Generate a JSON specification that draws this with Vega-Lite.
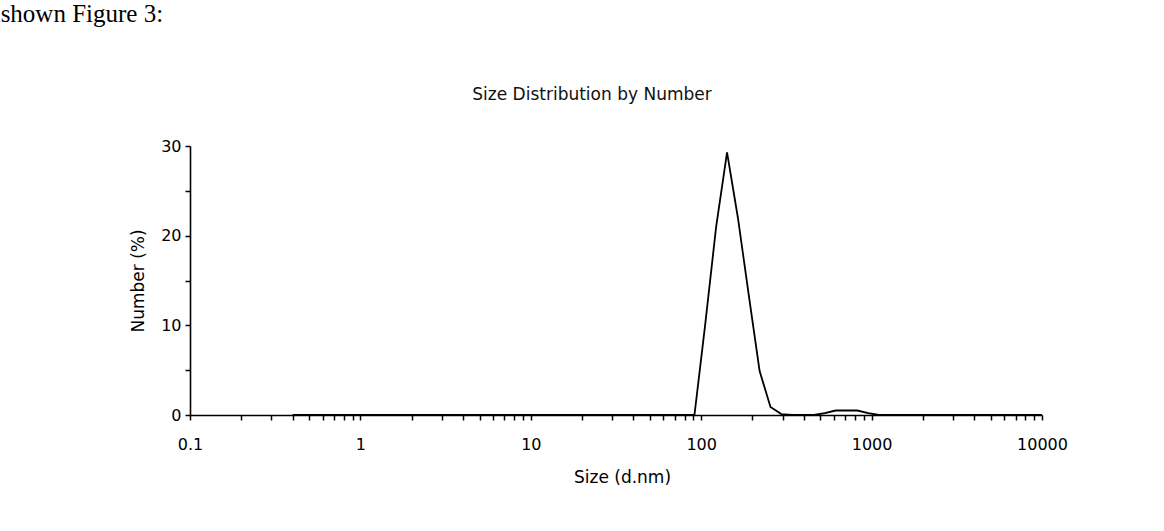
{
  "$schema": "https://vega.github.io/schema/vega-lite/v6.json",
  "background": "white",
  "padding": {"left": 0, "top": 2, "right": 5, "bottom": 5},
  "title": {"text": "shown Figure 3:", "anchor": "start", "font": "Liberation Serif", "fontSize": 25, "fontWeight": "normal", "color": "#000000", "dx": -129, "offset": 59, "frame": "bounds"},
  "vconcat": [
    {
      "width": 852,
      "height": 269,
      "title": {"text": "Size Distribution by Number", "font": "DejaVu Sans", "fontSize": 17, "fontWeight": "normal", "color": "#111111", "offset": 34, "dx": -24},
      "data": {"values": [
        {"size": 0.4, "number": 0}, {"size": 0.4632, "number": 0}, {"size": 0.5365, "number": 0}, {"size": 0.6213, "number": 0},
        {"size": 0.7195, "number": 0}, {"size": 0.8332, "number": 0}, {"size": 0.9649, "number": 0}, {"size": 1.117, "number": 0},
        {"size": 1.294, "number": 0}, {"size": 1.499, "number": 0}, {"size": 1.736, "number": 0}, {"size": 2.01, "number": 0},
        {"size": 2.328, "number": 0}, {"size": 2.696, "number": 0}, {"size": 3.122, "number": 0}, {"size": 3.615, "number": 0},
        {"size": 4.187, "number": 0}, {"size": 4.849, "number": 0}, {"size": 5.615, "number": 0}, {"size": 6.503, "number": 0},
        {"size": 7.531, "number": 0}, {"size": 8.721, "number": 0}, {"size": 10.1, "number": 0}, {"size": 11.7, "number": 0},
        {"size": 13.54, "number": 0}, {"size": 15.69, "number": 0}, {"size": 18.17, "number": 0}, {"size": 21.04, "number": 0},
        {"size": 24.36, "number": 0}, {"size": 28.21, "number": 0}, {"size": 32.67, "number": 0}, {"size": 37.84, "number": 0},
        {"size": 43.82, "number": 0}, {"size": 50.75, "number": 0}, {"size": 58.77, "number": 0}, {"size": 68.06, "number": 0},
        {"size": 78.82, "number": 0}, {"size": 91.28, "number": 0}, {"size": 105.7, "number": 10.2}, {"size": 122.4, "number": 21.0},
        {"size": 141.8, "number": 29.3}, {"size": 164.2, "number": 22.0}, {"size": 190.1, "number": 13.4}, {"size": 220.2, "number": 4.9},
        {"size": 255.0, "number": 0.9}, {"size": 295.3, "number": 0.1}, {"size": 342.0, "number": 0}, {"size": 396.1, "number": 0},
        {"size": 458.7, "number": 0}, {"size": 531.2, "number": 0.2}, {"size": 615.1, "number": 0.5}, {"size": 712.4, "number": 0.5},
        {"size": 825.0, "number": 0.5}, {"size": 955.4, "number": 0.2}, {"size": 1106, "number": 0}, {"size": 1281, "number": 0},
        {"size": 1484, "number": 0}, {"size": 1718, "number": 0}, {"size": 1990, "number": 0}, {"size": 2305, "number": 0},
        {"size": 2669, "number": 0}, {"size": 3091, "number": 0}, {"size": 3580, "number": 0}, {"size": 4145, "number": 0},
        {"size": 4801, "number": 0}, {"size": 5560, "number": 0}, {"size": 6439, "number": 0}, {"size": 7456, "number": 0},
        {"size": 8635, "number": 0}, {"size": 10000, "number": 0}
      ]},
      "mark": {"type": "line", "color": "#000000", "strokeWidth": 1.8, "clip": true},
      "encoding": {
        "x": {
          "field": "size", "type": "quantitative",
          "scale": {"type": "log", "domain": [0.1, 10000], "nice": false},
          "axis": {
            "title": "Size (d.nm)",
            "values": [0.1, 0.2, 0.3, 0.4, 0.5, 0.6, 0.7, 0.8, 0.9, 1, 2, 3, 4, 5, 6, 7, 8, 9, 10, 20, 30, 40, 50, 60, 70, 80, 90, 100, 200, 300, 400, 500, 600, 700, 800, 900, 1000, 2000, 3000, 4000, 5000, 6000, 7000, 8000, 9000, 10000],
            "labelExpr": "abs(log(datum.value)/LN10 - round(log(datum.value)/LN10)) < 0.001 ? (datum.value < 1 ? '0.1' : format(datum.value, 'd')) : ''",
            "labelOverlap": false,
            "labelFlush": false,
            "labelBound": false,
            "tickSize": 5,
            "labelPadding": 16,
            "titlePadding": 17,
            "titleX": 432
          }
        },
        "y": {
          "field": "number", "type": "quantitative",
          "scale": {"domain": [0, 30], "nice": false},
          "axis": {
            "title": "Number (%)",
            "values": [0, 5, 10, 15, 20, 25, 30],
            "labelExpr": "datum.value % 10 == 0 ? datum.label : ''",
            "labelOverlap": false,
            "labelFlush": false,
            "tickSize": 5,
            "labelPadding": 4,
            "titlePadding": 13
          }
        }
      }
    }
  ],
  "config": {
    "view": {"stroke": null},
    "axis": {
      "grid": false,
      "domainColor": "#000000",
      "domainWidth": 1.6,
      "tickColor": "#000000",
      "tickWidth": 1.5,
      "labelColor": "#000000",
      "titleColor": "#000000",
      "labelFont": "DejaVu Sans",
      "titleFont": "DejaVu Sans",
      "labelFontSize": 16,
      "titleFontSize": 17,
      "titleFontWeight": "normal"
    }
  }
}
